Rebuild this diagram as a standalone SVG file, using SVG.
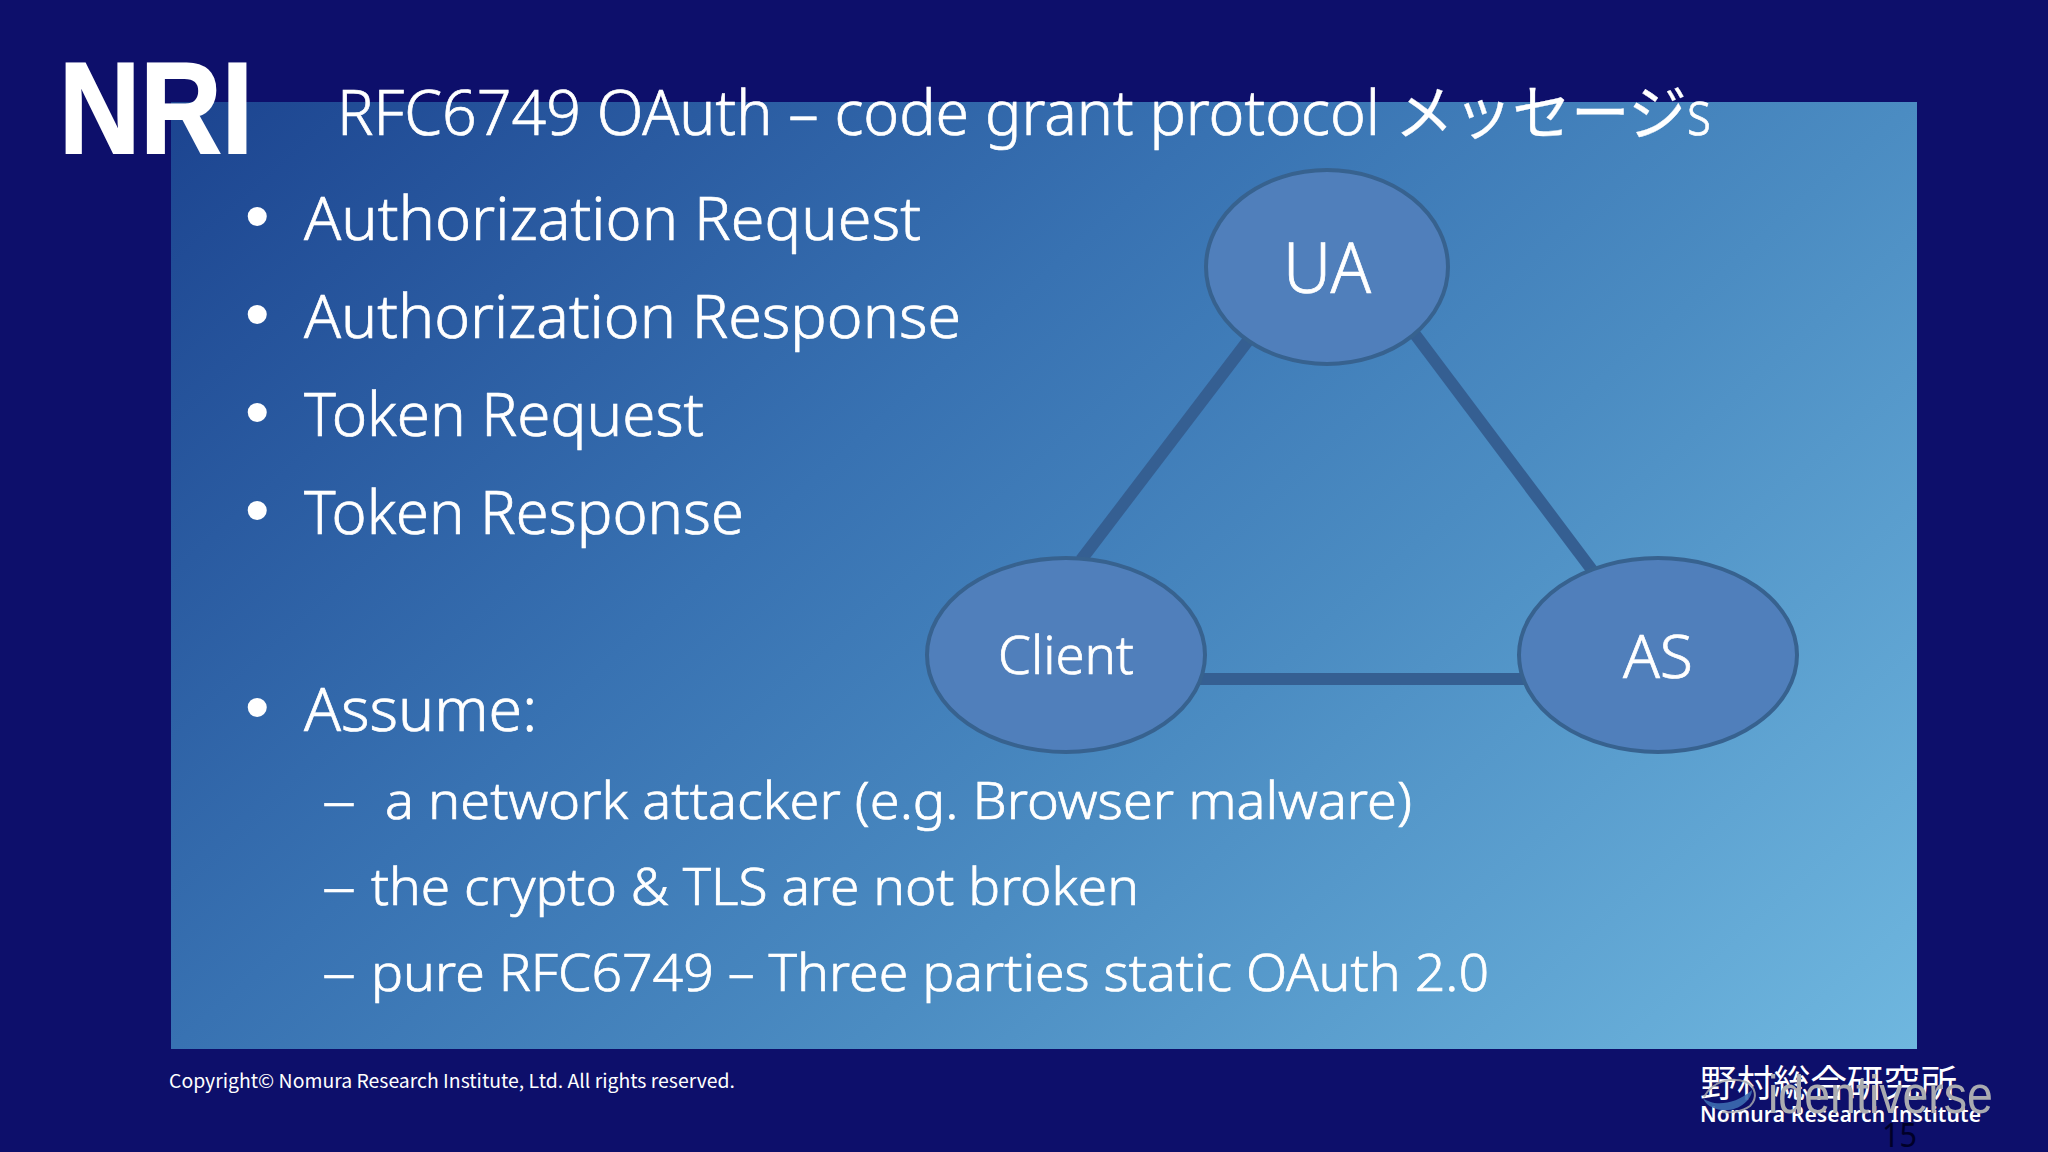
<svg xmlns="http://www.w3.org/2000/svg" width="2048" height="1152" viewBox="0 0 2048 1152">
<style>
text{fill:#fff;font-family:"Noto Sans","Noto Sans CJK JP",sans-serif}
.h{font-size:62px;font-weight:300;stroke:#fff;stroke-width:.7}
.b{font-size:60px;font-weight:300;stroke:#fff;stroke-width:.7}
.d{font-size:70px;font-family:"Liberation Sans",sans-serif}
.s{font-size:51px;font-weight:300;stroke:#fff;stroke-width:.7}
.l{font-weight:300;stroke:#fff;stroke-width:.7}
.n{fill:#507fbb;stroke:#37628f;stroke-width:4}
.c{stroke:#355f92;stroke-width:12;fill:none}
</style>
<defs>
<linearGradient id="panel" gradientUnits="userSpaceOnUse" x1="171" y1="102" x2="1408" y2="1499">
<stop offset="0" stop-color="#1c4490"/>
<stop offset="0.38" stop-color="#3872b2"/>
<stop offset="0.62" stop-color="#4b8cc2"/>
<stop offset="1" stop-color="#6fb7df"/>
</linearGradient>
</defs>
<rect width="2048" height="1152" fill="#0d0f6b"/>
<rect x="171" y="102" width="1746" height="947" fill="url(#panel)"/>
<text x="59" y="153" font-size="130" font-weight="700" textLength="194" lengthAdjust="spacingAndGlyphs" style="font-family:'Liberation Sans',sans-serif;stroke:#fff;stroke-width:2">NRI</text>
<text class="h" y="135"><tspan x="337" textLength="1043" lengthAdjust="spacingAndGlyphs">RFC6749 OAuth – code grant protocol</tspan><tspan x="1395" font-size="60" font-weight="400" textLength="292" lengthAdjust="spacingAndGlyphs" style="font-family:'Noto Sans CJK JP',sans-serif;stroke-width:.3">メッセージ</tspan><tspan x="1687" textLength="24" lengthAdjust="spacingAndGlyphs">s</tspan></text>
<text class="d" x="245" y="240">•</text>
<text class="b" x="304" y="240" textLength="617" lengthAdjust="spacingAndGlyphs">Authorization Request</text>
<text class="d" x="245" y="338">•</text>
<text class="b" x="304" y="338" textLength="657" lengthAdjust="spacingAndGlyphs">Authorization Response</text>
<text class="d" x="245" y="436">•</text>
<text class="b" x="304" y="436" textLength="400" lengthAdjust="spacingAndGlyphs">Token Request</text>
<text class="d" x="245" y="534">•</text>
<text class="b" x="304" y="534" textLength="440" lengthAdjust="spacingAndGlyphs">Token Response</text>
<text class="d" x="245" y="731">•</text>
<text class="b" x="304" y="731" textLength="233" lengthAdjust="spacingAndGlyphs">Assume:</text>
<text class="s" x="322" y="819" textLength="34" lengthAdjust="spacingAndGlyphs">–</text>
<text class="s" x="385" y="819" textLength="1027" lengthAdjust="spacingAndGlyphs">a network attacker (e.g. Browser malware)</text>
<text class="s" x="322" y="905" textLength="34" lengthAdjust="spacingAndGlyphs">–</text>
<text class="s" x="371" y="905" textLength="768" lengthAdjust="spacingAndGlyphs">the crypto &amp; TLS are not broken</text>
<text class="s" x="322" y="991" textLength="34" lengthAdjust="spacingAndGlyphs">–</text>
<text class="s" x="371" y="991" textLength="1118" lengthAdjust="spacingAndGlyphs">pure RFC6749 – Three parties static OAuth 2.0</text>
<g id="connectors">
<line class="c" x1="1250" y1="338" x2="1081" y2="560"/>
<line class="c" x1="1414" y1="333" x2="1592" y2="570"/>
<line class="c" x1="1200" y1="679" x2="1526" y2="679"/>
</g>
<g id="ua"><ellipse class="n" cx="1327" cy="267" rx="121" ry="97"/><text class="l" x="1283" y="293" font-size="69" textLength="88" lengthAdjust="spacingAndGlyphs">UA</text></g>
<g id="client"><ellipse class="n" cx="1066" cy="655" rx="139" ry="97"/><text class="l" x="998" y="674" font-size="53" textLength="136" lengthAdjust="spacingAndGlyphs">Client</text></g>
<g id="as"><ellipse class="n" cx="1658" cy="655" rx="139" ry="97"/><text class="l" x="1623" y="678" font-size="61" textLength="70" lengthAdjust="spacingAndGlyphs">AS</text></g>
<text x="169" y="1088" font-size="19" textLength="566" lengthAdjust="spacingAndGlyphs" style="font-family:'Noto Sans CJK JP',sans-serif">Copyright© Nomura Research Institute, Ltd. All rights reserved.</text>
<text x="1700" y="1097" font-size="37" textLength="257" lengthAdjust="spacingAndGlyphs" style="font-family:'Noto Sans CJK JP',sans-serif">野村総合研究所</text>
<text x="1700" y="1122" font-size="21" font-weight="600" textLength="281" lengthAdjust="spacing">Nomura Research Institute</text>
<path d="M1704 1097C1712 1082 1730 1076 1746 1082C1756 1087 1758 1098 1750 1106C1742 1112 1730 1113 1722 1112" fill="none" stroke="#a5a7ad" stroke-width="2" opacity=".85"/>
<path d="M1703 1098C1712 1106 1734 1106 1752 1090C1752 1100 1738 1112 1722 1110C1712 1109 1705 1104 1703 1098Z" fill="#3c6cb0" opacity=".9"/>
<text x="1768" y="1113" font-size="53" textLength="225" lengthAdjust="spacingAndGlyphs" style="fill:#aaabb0;font-family:'Liberation Sans',sans-serif">identiverse</text>
<text x="1882" y="1147" font-size="33" textLength="35" lengthAdjust="spacingAndGlyphs" style="fill:#000028">15</text>
</svg>
